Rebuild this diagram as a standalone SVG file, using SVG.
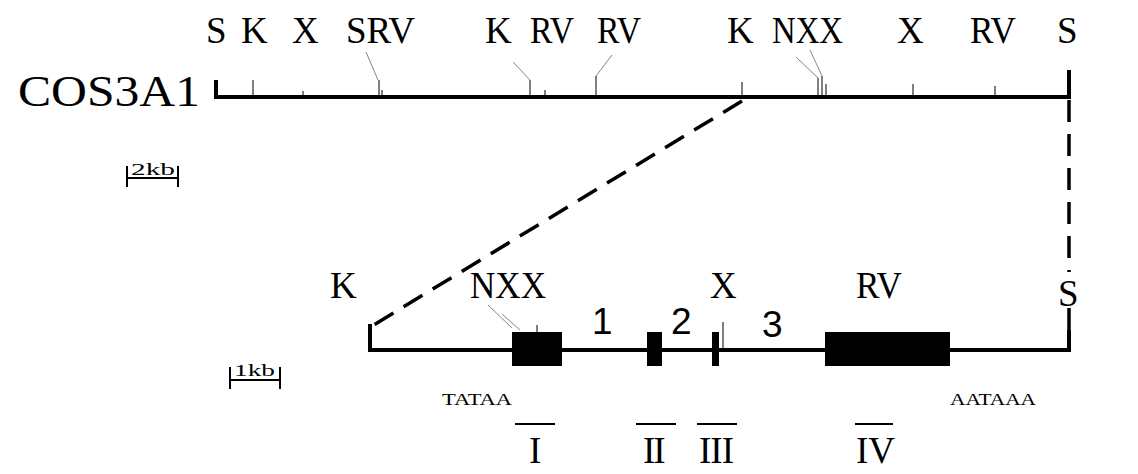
<svg xmlns="http://www.w3.org/2000/svg" width="1138" height="474" viewBox="0 0 1138 474">
<style>
  .lbl { font-family: "Liberation Serif", "DejaVu Serif", serif; font-size: 37px; fill: #000; }
  .num { font-family: "Liberation Sans", Arial, sans-serif; font-size: 37px; fill: #000; }
  .small { font-family: "Liberation Serif", "DejaVu Serif", serif; font-size: 16px; fill: #000; }
  .map { stroke: #000; stroke-width: 4; fill: none; }
  .tick { stroke: #000; stroke-width: 1; fill: none; }
  .thin { stroke: #666; stroke-width: 0.8; fill: none; }
  .dash { stroke: #000; stroke-width: 3.5; stroke-dasharray: 22 12; fill: none; }
  .bar { stroke: #000; stroke-width: 2; }
  .exon { fill: #000; }
</style>

<!-- Cosmid map -->
<g id="cosmid">
  <text x="18" y="106" font-family="Liberation Serif, serif" font-size="44" textLength="182" lengthAdjust="spacingAndGlyphs">COS3A1</text>
  <polyline class="map" points="216,80 216,97 1069,97 1069,70"/>
  <g class="tick">
    <line x1="253" y1="80" x2="253" y2="97"/>
    <line x1="303" y1="91" x2="303" y2="97"/>
    <line x1="379" y1="80" x2="379" y2="97"/>
    <line x1="382" y1="90" x2="382" y2="97"/>
    <line x1="530" y1="80" x2="530" y2="97"/>
    <line x1="545" y1="90" x2="545" y2="97"/>
    <line x1="596" y1="76" x2="596" y2="97"/>
    <line x1="742" y1="82" x2="742" y2="97"/>
    <line x1="818" y1="78" x2="818" y2="97"/>
    <line x1="822" y1="76" x2="822" y2="97"/>
    <line x1="826" y1="84" x2="826" y2="97"/>
    <line x1="913" y1="84" x2="913" y2="97"/>
    <line x1="995" y1="86" x2="995" y2="97"/>
  </g>
  <g class="thin">
    <line x1="366" y1="52" x2="378" y2="80"/>
    <line x1="513" y1="62" x2="530" y2="80"/>
    <line x1="612" y1="55" x2="596" y2="76"/>
    <line x1="796" y1="57" x2="818" y2="78"/>
    <line x1="810" y1="50" x2="822" y2="76"/>
  </g>
  <text class="lbl" x="206" y="43">S</text>
  <text class="lbl" x="241" y="43">K</text>
  <text class="lbl" x="292" y="43">X</text>
  <text class="lbl" x="346" y="43" textLength="69" lengthAdjust="spacingAndGlyphs">SRV</text>
  <text class="lbl" x="485" y="43">K</text>
  <text class="lbl" x="530" y="43" textLength="44" lengthAdjust="spacingAndGlyphs">RV</text>
  <text class="lbl" x="597" y="43" textLength="44" lengthAdjust="spacingAndGlyphs">RV</text>
  <text class="lbl" x="727" y="43">K</text>
  <text class="lbl" x="772" y="43" textLength="71" lengthAdjust="spacingAndGlyphs">NXX</text>
  <text class="lbl" x="897" y="43">X</text>
  <text class="lbl" x="970" y="43" textLength="46" lengthAdjust="spacingAndGlyphs">RV</text>
  <text class="lbl" x="1057" y="43">S</text>
</g>

<!-- 2 kb scale bar -->
<g id="scale2kb">
  <path class="bar" d="M127,166 V187 M178,166 V187 M127,178 H178"/>
  <text class="small" x="131" y="175" font-size="20" textLength="44" lengthAdjust="spacingAndGlyphs">2kb</text>
</g>

<!-- Zoom connectors -->
<g id="connectors">
  <line class="dash" x1="742" y1="101" x2="372" y2="326"/>
  <line class="dash" x1="1069" y1="100" x2="1069" y2="272"/>
  <line class="dash" x1="1069" y1="308" x2="1069" y2="330"/>
</g>

<!-- Gene map -->
<g id="gene">
  <polyline class="map" points="370,324 370,350 1069,350 1069,330"/>
  <rect class="exon" x="512" y="332" width="50" height="34"/>
  <rect class="exon" x="647" y="332" width="15" height="34"/>
  <rect class="exon" x="712" y="332" width="7" height="34"/>
  <rect class="exon" x="825" y="332" width="125" height="34"/>
  <g class="tick">
    <line x1="537" y1="325" x2="537" y2="332"/>
    <line x1="723" y1="322" x2="723" y2="350"/>
  </g>
  <g class="thin">
    <line x1="488" y1="305" x2="512" y2="328"/>
    <line x1="502" y1="314" x2="520" y2="330"/>
  </g>
  <text class="lbl" x="330" y="298">K</text>
  <text class="lbl" x="470" y="298" textLength="76" lengthAdjust="spacingAndGlyphs">NXX</text>
  <text class="lbl" x="710" y="298">X</text>
  <text class="lbl" x="856" y="298" textLength="46" lengthAdjust="spacingAndGlyphs">RV</text>
  <text class="lbl" x="1058" y="306">S</text>
  <text class="num" x="592" y="334">1</text>
  <text class="num" x="671" y="334">2</text>
  <text class="num" x="762" y="337">3</text>
</g>

<!-- 1 kb scale bar -->
<g id="scale1kb">
  <path class="bar" d="M230,367 V389 M280,367 V389 M230,380 H280"/>
  <text class="small" x="234" y="376" font-size="19" textLength="41" lengthAdjust="spacingAndGlyphs">1kb</text>
</g>

<!-- Promoter and polyadenylation signals -->
<g id="signals">
  <text class="small" x="442" y="405" textLength="70" lengthAdjust="spacingAndGlyphs">TATAA</text>
  <text class="small" x="950" y="405" textLength="86" lengthAdjust="spacingAndGlyphs">AATAAA</text>
</g>

<!-- Exon probes -->
<g id="probes">
  <path class="bar" d="M515,424 H555 M636,424 H676 M697,424 H737 M855,424 H893"/>
  <text class="lbl" x="529" y="463">I</text>
  <text class="lbl" x="643" y="463" letter-spacing="-2">II</text>
  <text class="lbl" x="699" y="463" letter-spacing="-1">III</text>
  <text class="lbl" x="856" y="463">IV</text>
</g>
</svg>
